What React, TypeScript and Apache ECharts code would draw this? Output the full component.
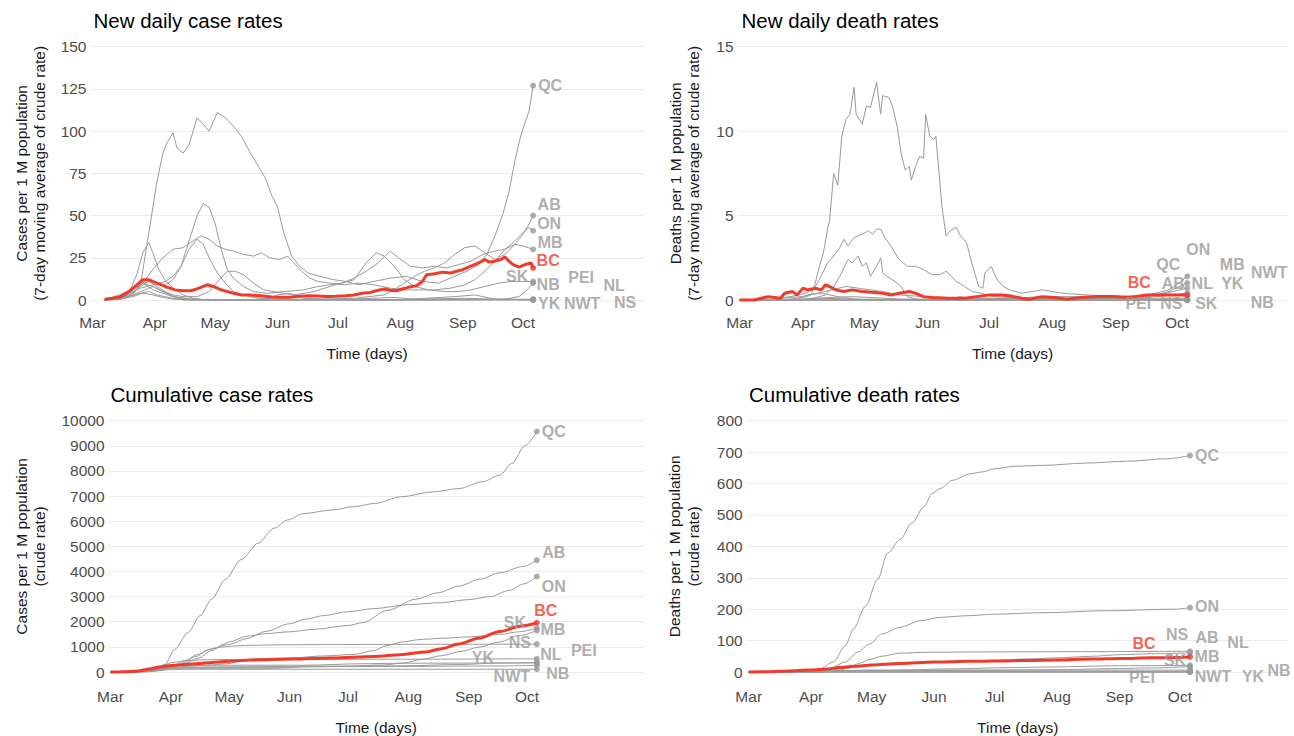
import React, { useEffect, useRef } from "react";
import * as echarts from "echarts";

// ---------- tick labels ----------
const MONTH_DAYS = [0, 31, 61, 92, 122, 153, 184, 214]; // days since Mar 1
const MONTH_LABELS = ["Mar", "Apr", "May", "Jun", "Jul", "Aug", "Sep", "Oct"];
const REGIONS = ["QC", "ON", "AB", "MB", "SK", "NS", "NL", "NB", "PEI", "YK", "NWT", "BC"];

// ---------- New daily case rates (per 1M, 7-day avg) : [day, value] ----------
const dcQC = [[6,0],[14,0.5],[20,3],[24,10],[28,40],[32,70],[35,87],[37,93],[40,99],[42,90],[45,87],[48,92],[52,108],[55,104],[58,100],[62,111],[66,108],[70,103],[74,97],[78,88],[82,80],[86,72],[89,62],[92,55],[95,40],[99,26],[103,20],[107,16],[113,14],[120,12],[126,11],[132,9],[140,11],[148,13],[156,14],[164,11],[172,10],[180,14],[186,17],[192,21],[196,27],[200,38],[204,51],[207,64],[210,83],[213,98],[217,112],[219,127]];
const dcON = [[6,0.3],[14,1],[20,4],[25,10],[30,18],[35,25],[40,30],[45,31],[50,35],[54,38],[58,36],[62,32],[66,30],[70,29],[75,27],[80,26],[84,28],[88,25],[93,24],[97,26],[100,22],[104,17],[108,13],[112,11],[118,10],[125,9],[132,10],[140,9],[148,7],[155,6],[162,6],[170,6],[178,7],[185,9],[190,12],[195,17],[200,23],[205,30],[210,35],[214,40],[217,43],[219,41]];
const dcAB = [[6,0.2],[12,1],[18,3],[24,8],[28,11],[32,10],[36,9],[40,12],[44,20],[48,35],[52,50],[55,57],[58,55],[61,45],[64,30],[67,18],[70,13],[75,8],[80,5],[87,4],[95,5],[105,6],[112,8],[118,9],[124,10],[130,13],[136,17],[142,22],[148,29],[152,25],[158,20],[164,19],[170,20],[176,19],[182,21],[188,23],[194,27],[200,29],[205,30],[210,33],[214,39],[217,45],[219,50]];
const dcMB = [[6,0],[12,0.5],[18,2],[24,4],[28,5],[32,3],[36,2],[40,1],[45,0.5],[55,0.3],[70,0.1],[90,0.3],[110,0.5],[130,1],[145,3],[150,6],[155,10],[160,14],[165,17],[170,19],[175,22],[180,27],[185,31],[190,32],[195,28],[200,24],[205,27],[210,33],[214,32],[219,30]];
const dcSK = [[6,0.2],[14,2],[20,6],[25,10],[28,11],[32,8],[36,5],[40,3],[45,2],[52,2],[58,5],[63,12],[67,17],[71,17],[75,15],[80,10],[85,6],[90,5],[95,4],[100,3],[110,5],[118,8],[124,10],[130,12],[136,22],[141,28],[145,26],[150,20],[155,12],[160,8],[167,6],[175,5],[182,5],[188,6],[195,8],[202,10],[208,11],[214,11],[219,11]];
const dcNS = [[6,0],[12,1],[18,4],[24,7],[30,9],[36,11],[40,14],[44,20],[48,30],[52,36],[55,33],[58,25],[62,16],[66,10],[70,5],[75,3],[80,1.5],[90,0.5],[110,0.2],[150,0.1],[219,0.3]];
const dcNL = [[6,0],[14,0.5],[18,4],[22,15],[25,28],[28,34],[30,28],[33,18],[36,12],[40,7],[45,3],[50,1],[55,0.3],[70,0],[150,0.1],[219,0.4]];
const dcNB = [[6,0],[14,0.5],[20,2],[25,4],[30,3],[35,1.5],[40,0.5],[50,0.1],[80,0.2],[88,1.5],[95,1],[100,0.2],[130,0],[160,0.1],[190,0.2],[205,0.5],[212,2],[216,6],[219,10]];
const dcPEI = [[6,0],[14,2],[20,6],[25,10],[30,8],[35,5],[40,2],[50,0.5],[60,0],[85,0],[92,3],[98,4],[105,1],[120,0.3],[135,0.8],[150,1.5],[160,0.5],[185,1],[200,0.5],[219,0.3]];
const dcYK = [[6,0],[20,6],[25,10],[30,6],[40,2],[50,0],[150,0],[180,2],[190,3],[200,0.5],[219,0]];
const dcNWT = [[6,0],[20,3],[30,8],[35,5],[45,0],[150,0],[219,0]];
const dcBC = [[6,0.5],[10,1],[14,2],[18,5],[22,9],[25,12],[28,12],[32,10],[36,8],[41,6],[45,5.5],[49,5.5],[53,7],[57,9],[60,8],[64,6],[70,4],[74,3],[78,3],[84,2.5],[89,1.8],[95,1.7],[99,1.8],[103,2.2],[107,2.5],[112,2.3],[117,2],[121,2.2],[126,2.5],[130,3],[134,4],[138,4.5],[141,5.5],[145,6.5],[148,5.8],[151,5.5],[154,6.5],[157,7.5],[161,8.5],[164,11],[166,15],[170,15.5],[174,16.5],[178,16],[181,17],[184,18],[188,20],[192,22],[195,24],[197,22.5],[200,23],[203,24],[205,25.5],[207,23],[209,21],[212,19.5],[215,21],[218,22],[219,19]];

// ---------- New daily death rates ----------
const ddQC = [[0,0],[20,0],[28,0.1],[33,0.2],[35,0.3],[37,1],[39,2],[41,2.8],[43,4.2],[44,4.7],[46,7.5],[48,6.8],[50,9.7],[52,10.7],[54,11],[56,12.6],[57,11],[60,10.4],[62,11.5],[64,11.4],[67,12.9],[69,11],[70,12.1],[73,12],[75,11.4],[77,10.3],[79,8.7],[81,7.7],[83,7.9],[84,7.1],[86,7.9],[88,8.5],[90,8.4],[91,11],[93,9.7],[95,9.5],[96,9.7],[99,5.5],[101,3.8],[103,4.1],[106,4.3],[108,3.8],[111,3.4],[114,2],[117,0.8],[119,0.7],[120,1.6],[123,2],[126,1.2],[129,0.8],[132,0.6],[138,0.4],[148,0.6],[158,0.4],[170,0.3],[185,0.2],[200,0.3],[210,0.6],[215,1],[219,1.4]];
const ddON = [[0,0],[15,0.05],[25,0.2],[32,0.4],[36,0.6],[39,1.2],[43,2.2],[46,2.6],[49,3.1],[51,3.6],[53,3.2],[56,3.7],[60,3.9],[63,4.1],[65,3.9],[67,4.2],[69,4.2],[71,3.7],[74,3.2],[78,2.4],[82,2],[86,2],[90,1.8],[94,1.5],[98,1.5],[101,1.7],[106,1.1],[110,0.8],[114,0.5],[118,0.4],[124,0.2],[140,0.1],[160,0.1],[180,0.1],[200,0.15],[212,0.3],[219,0.4]];
const ddAB = [[0,0],[14,0],[20,0.1],[30,0.2],[38,0.4],[45,0.6],[52,0.8],[58,0.7],[64,0.6],[70,0.5],[78,0.3],[90,0.2],[110,0.1],[130,0.1],[150,0.2],[170,0.2],[190,0.2],[205,0.3],[212,0.5],[219,0.7]];
const ddMB = [[0,0],[30,0],[40,0.1],[60,0.05],[100,0],[150,0.05],[180,0.1],[200,0.2],[210,0.5],[215,0.8],[219,1.0]];
const ddSK = [[0,0],[25,0],[35,0.1],[55,0.2],[80,0.05],[140,0.1],[170,0.1],[219,0.1]];
const ddNS = [[0,0],[30,0],[36,0.1],[42,0.3],[46,0.8],[49,1.4],[53,2.4],[55,2.2],[58,2.6],[60,2],[62,2.2],[64,1.4],[67,2],[69,2.5],[70,1.6],[72,1.4],[76,1.1],[79,0.8],[82,0.2],[88,0],[219,0]];
const ddNL = [[0,0],[28,0],[33,0.3],[40,0.4],[48,0.2],[60,0],[219,0]];
const ddNB = [[0,0],[100,0],[108,0.2],[115,0],[219,0]];
const ddPEI = [[0,0],[219,0]];
const ddYK = [[0,0],[219,0]];
const ddNWT = [[0,0],[219,0]];
const ddBC = [[0,0],[7,0],[14,0.2],[20,0.1],[22,0.4],[26,0.5],[28,0.3],[31,0.7],[33,0.6],[37,0.7],[40,0.6],[42,0.9],[44,0.8],[47,0.6],[51,0.5],[55,0.6],[60,0.5],[66,0.45],[70,0.4],[74,0.3],[78,0.4],[83,0.5],[86,0.4],[90,0.2],[94,0.15],[102,0.1],[110,0.1],[116,0.2],[122,0.3],[128,0.3],[132,0.25],[138,0.1],[142,0.05],[148,0.2],[154,0.15],[160,0.05],[167,0.15],[175,0.2],[183,0.2],[191,0.15],[199,0.3],[209,0.3],[219,0.3]];

// ---------- Cumulative case rates ----------
const ccQC = [[0,0],[10,1],[18,10],[24,80],[28,300],[33,900],[40,1580],[46,2240],[52,2900],[59,3680],[67,4470],[76,5130],[84,5720],[91,6050],[99,6300],[114,6450],[125,6580],[136,6710],[149,6970],[166,7170],[179,7300],[191,7570],[200,7830],[206,8290],[213,9010],[219,9570]];
const ccON = [[0,0],[10,3],[18,20],[24,60],[30,180],[38,450],[45,700],[52,930],[61,1100],[70,1330],[80,1620],[92,1920],[100,2100],[110,2250],[122,2400],[135,2520],[153,2680],[170,2760],[184,2880],[195,3000],[205,3250],[212,3500],[219,3800]];
const ccAB = [[0,0],[10,3],[18,30],[24,100],[30,190],[38,330],[45,550],[52,850],[58,1100],[61,1200],[70,1420],[80,1530],[92,1600],[105,1700],[122,1850],[130,1970],[142,2450],[157,2900],[168,3150],[179,3420],[190,3700],[200,3950],[212,4200],[219,4450]];
const ccSK = [[0,0],[14,5],[20,40],[26,100],[32,170],[40,230],[50,270],[60,330],[68,450],[75,530],[92,560],[110,640],[125,700],[135,850],[142,1050],[150,1200],[160,1300],[170,1340],[185,1400],[200,1500],[210,1600],[219,1750]];
const ccMB = [[0,0],[14,5],[20,20],[26,80],[32,150],[40,190],[50,200],[70,210],[100,230],[122,235],[140,280],[150,350],[160,500],[170,650],[180,820],[190,1000],[200,1200],[210,1450],[219,1650]];
const ccNS = [[0,0],[14,2],[20,15],[26,70],[32,190],[38,380],[44,620],[50,880],[56,980],[62,1030],[70,1060],[85,1080],[110,1090],[150,1100],[219,1110]];
const ccNL = [[0,0],[14,3],[18,20],[24,170],[28,300],[32,380],[38,440],[45,480],[55,495],[80,500],[150,510],[219,525]];
const ccNB = [[0,0],[14,15],[20,60],[26,120],[32,150],[45,150],[85,150],[92,190],[100,210],[140,220],[200,240],[219,265]];
const ccPEI = [[0,0],[14,10],[20,60],[26,110],[32,160],[40,170],[90,170],[100,210],[120,225],[150,245],[180,300],[200,360],[219,380]];
const ccYK = [[0,0],[18,50],[24,150],[32,250],[40,270],[100,270],[130,330],[150,350],[219,360]];
const ccNWT = [[0,0],[20,20],[30,90],[40,110],[219,110]];
const ccBC = [[0,0],[7,5],[14,40],[20,120],[25,200],[33,270],[44,330],[50,370],[61,430],[72,475],[93,520],[114,560],[136,620],[149,690],[162,800],[170,930],[179,1110],[189,1340],[200,1610],[211,1830],[219,1960]];

// ---------- Cumulative death rates ----------
const cdQC = [[0,0],[15,0],[22,0.5],[28,3],[32,6],[36,12],[42,32],[48,84],[52,137],[58,210],[64,295],[69,379],[75,421],[81,474],[87,526],[91,568],[95,584],[101,610],[110,631],[116,637],[122,647],[132,655],[147,658],[167,665],[188,671],[208,679],[219,689]];
const cdON = [[0,0],[15,0],[25,0.5],[32,3],[40,10],[48,32],[54,63],[60,89],[66,121],[75,142],[85,163],[95,174],[108,179],[122,184],[147,189],[177,195],[212,200],[219,205]];
const cdAB = [[0,0],[20,0.5],[30,2],[40,6],[48,11],[55,17],[61,22],[75,28],[92,33],[105,35],[122,37],[140,42],[153,45],[170,50],[184,55],[200,58],[219,61]];
const cdMB = [[0,0],[25,0],[35,1],[45,4],[60,5],[100,5],[150,7],[184,11],[200,13],[219,17]];
const cdSK = [[0,0],[25,0],[35,2],[50,4],[70,5],[100,10],[130,14],[150,16],[184,20],[219,21]];
const cdNS = [[0,0],[35,0],[40,2],[45,6],[50,15],[55,28],[60,40],[66,50],[75,60],[90,63],[120,64],[180,65],[219,66]];
const cdNL = [[0,0],[25,0],[32,2],[40,4],[50,5],[60,6],[219,6]];
const cdNB = [[0,0],[90,0],[100,1],[110,2],[219,2.5]];
const cdPEI = [[0,0],[219,0]];
const cdYK = [[0,0],[219,0]];
const cdNWT = [[0,0],[219,0]];
const cdBC = [[0,0],[10,1],[20,3],[30,6],[38,9],[45,14],[52,18],[61,22],[75,27],[92,32],[110,34],[122,35],[140,37],[153,38],[170,41],[184,43],[200,45],[219,48]];

// ---------- panel texts / scales ----------
const TITLES = ["New daily case rates", "New daily death rates", "Cumulative case rates", "Cumulative death rates"];
const Y_NAMES = [
  "Cases per 1 M population\n(7-day moving average of crude rate)",
  "Deaths per 1 M population\n(7-day moving average of crude rate)",
  "Cases per 1 M population\n(crude rate)",
  "Deaths per 1 M population\n(crude rate)",
];
const Y_MAX = [150, 15, 10000, 800];
const Y_STEP = [25, 5, 1000, 100];
const X_NAME = "Time (days)";

const PANEL_DATA = [
  { QC: dcQC, ON: dcON, AB: dcAB, MB: dcMB, SK: dcSK, NS: dcNS, NL: dcNL, NB: dcNB, PEI: dcPEI, YK: dcYK, NWT: dcNWT, BC: dcBC },
  { QC: ddQC, ON: ddON, AB: ddAB, MB: ddMB, SK: ddSK, NS: ddNS, NL: ddNL, NB: ddNB, PEI: ddPEI, YK: ddYK, NWT: ddNWT, BC: ddBC },
  { QC: ccQC, ON: ccON, AB: ccAB, MB: ccMB, SK: ccSK, NS: ccNS, NL: ccNL, NB: ccNB, PEI: ccPEI, YK: ccYK, NWT: ccNWT, BC: ccBC },
  { QC: cdQC, ON: cdON, AB: cdAB, MB: cdMB, SK: cdSK, NS: cdNS, NL: cdNL, NB: cdNB, PEI: cdPEI, YK: cdYK, NWT: cdNWT, BC: cdBC },
];

// ---------- layout (pixels) ----------
const LAYOUT = [
  { left: 90.5, top: 46.7, height: 253.3, ppd: 2.012, xMax: 274, yGap: 41.6, xGap: 45.5, xMargin: 14.5, titleLeft: 93.5, titleTop: 8, smooth: false },
  { left: 737.6, top: 46.7, height: 253.3, ppd: 2.044, xMax: 268, yGap: 34.6, xGap: 45.5, xMargin: 14.5, titleLeft: 741.5, titleTop: 8, smooth: false },
  { left: 108.5, top: 420.7, height: 252.6, ppd: 1.947, xMax: 274, yGap: 59.6, xGap: 47, xMargin: 16.5, titleLeft: 110.5, titleTop: 382, smooth: true },
  { left: 746.7, top: 420.7, height: 252.6, ppd: 2.015, xMax: 268, yGap: 44, xGap: 47, xMargin: 16.5, titleLeft: 749, titleTop: 382, smooth: true },
];
const X_MIN = -1;

// label centre offsets from end dot, px
const LABEL_OFFSETS = [
  { QC: [17, 0], AB: [16, -11], ON: [16, -7], MB: [17, -7], BC: [15, -7], NB: [15, 1], SK: [-16, -5], PEI: [48, -22], NL: [81, -14], YK: [16, 3], NWT: [49, 3], NS: [92, 3] },
  { QC: [-19, -12], ON: [11, -44], MB: [45, -19], NWT: [82, -28], BC: [-48, -12], AB: [-14, -5], NL: [15, -17], YK: [45, -17], PEI: [-49, 3], NS: [-16, 3], SK: [19, 5], NB: [75, 2] },
  { QC: [17, 0], AB: [17, -8], ON: [17, 10], BC: [9, -12], SK: [-22, -6], MB: [16, -1], NS: [-17, -2], PEI: [47, -12], NL: [14, -4], YK: [-54, -5], NWT: [-25, 7], NB: [21, 8] },
  { QC: [17, 0], ON: [17, -1], NS: [-13, -17], AB: [17, -15], NL: [48, -28], BC: [-46, -13], SK: [-15, -5], MB: [17, -10], PEI: [-48, 5], NWT: [23, 4], YK: [63, 4], NB: [89, -1] },
];

const FONT = "Liberation Sans, Arial, sans-serif";
const GREY_LINE = "#9a9a9a";
const GREY_LABEL = "#999999";
const RED = "#ef3b2c";

function buildOption() {
  const grid: any[] = [];
  const xAxis: any[] = [];
  const yAxis: any[] = [];
  const title: any[] = [];
  const series: any[] = [];

  LAYOUT.forEach((L, i) => {
    grid.push({ left: L.left, top: L.top, width: (L.xMax - X_MIN) * L.ppd, height: L.height, containLabel: false });
    title.push({
      text: TITLES[i], left: L.titleLeft, top: L.titleTop, padding: 0,
      textStyle: { fontFamily: FONT, fontSize: 20.5, fontWeight: "normal", color: "#000", lineHeight: 24 },
    });
    xAxis.push({
      type: "value", gridIndex: i, min: X_MIN, max: L.xMax,
      axisLine: { show: false }, axisTick: { show: false }, splitLine: { show: false },
      axisLabel: {
        customValues: MONTH_DAYS,
        formatter: (v: number) => { const k = MONTH_DAYS.indexOf(Math.round(v)); return k >= 0 ? MONTH_LABELS[k] : ""; },
        fontFamily: FONT, fontSize: 15.5, color: "#4d4d4d", margin: L.xMargin,
      },
      name: X_NAME, nameLocation: "middle", nameGap: L.xGap,
      nameTextStyle: { fontFamily: FONT, fontSize: 15.5, color: "#1a1a1a" },
    });
    yAxis.push({
      type: "value", gridIndex: i, min: 0, max: Y_MAX[i], interval: Y_STEP[i],
      axisLine: { show: false }, axisTick: { show: false },
      splitLine: { show: true, lineStyle: { color: "#ebebeb", width: 1 } },
      axisLabel: {
        formatter: (v: number) => String(v),
        fontFamily: FONT, fontSize: 15.5, color: "#4d4d4d", margin: 4,
      },
      name: Y_NAMES[i], nameLocation: "middle", nameGap: L.yGap,
      nameTextStyle: { fontFamily: FONT, fontSize: 15.5, lineHeight: 18.6, color: "#1a1a1a" },
    });

    const data: any = PANEL_DATA[i];
    REGIONS.forEach((r) => {
      const isBC = r === "BC";
      series.push({
        type: "line", xAxisIndex: i, yAxisIndex: i, data: data[r],
        symbol: "none", showSymbol: false, clip: false, silent: true,
        smooth: L.smooth ? 0.3 : false, smoothMonotone: "x",
        lineStyle: { width: isBC ? 3 : 1, color: isBC ? RED : GREY_LINE },
        z: isBC ? 4 : 2,
      });
    });
    const offs: any = LABEL_OFFSETS[i];
    series.push({
      type: "scatter", xAxisIndex: i, yAxisIndex: i, symbolSize: 6, silent: true, clip: false, z: 5,
      data: REGIONS.map((r) => {
        const arr = data[r];
        const last = arr[arr.length - 1];
        const isBC = r === "BC";
        return {
          value: last, name: r,
          itemStyle: { color: isBC ? RED : GREY_LABEL },
          label: {
            show: true, position: "inside", offset: offs[r], formatter: "{b}",
            align: "center", verticalAlign: "middle",
            fontFamily: FONT, fontSize: 16, fontWeight: "bold",
            color: isBC ? RED : GREY_LABEL, textBorderWidth: 0,
          },
        };
      }),
    });
  });

  return { animation: false, backgroundColor: "#ffffff", title, grid, xAxis, yAxis, series };
}

export default function App() {
  const ref = useRef<HTMLDivElement>(null);
  useEffect(() => {
    if (!ref.current) return;
    const chart = echarts.init(ref.current, undefined, { renderer: "svg" });
    chart.setOption(buildOption() as any);
    return () => chart.dispose();
  }, []);
  return (
    <div
      ref={ref}
      style={{ position: "fixed", left: 0, top: 0, width: 1294, height: 736, background: "#fff" }}
    />
  );
}
